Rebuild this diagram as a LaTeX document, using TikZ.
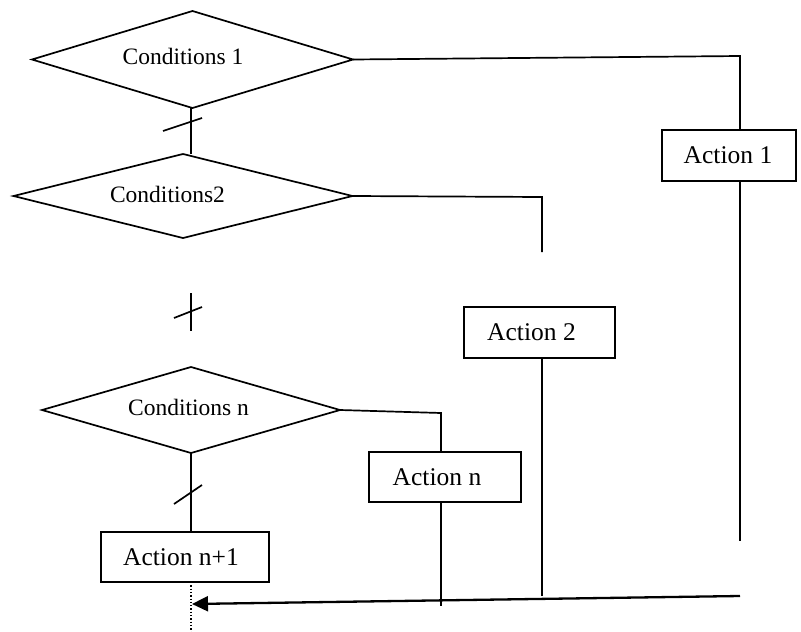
\documentclass[tikz,border=0pt]{standalone}
\usepackage{fontspec}
\setmainfont{Liberation Serif}
\usetikzlibrary{shapes.geometric,arrows.meta}
\begin{document}
\begin{tikzpicture}[x=1pt,y=-1pt,
  ln/.style={line width=1.7pt},
  cond/.style={draw,ln,diamond,inner sep=0pt,outer sep=0pt,shape aspect=3},
  condtext/.style={inner sep=0pt,font=\fontsize{23.5}{28}\selectfont},
  act/.style={draw,ln,rectangle,inner sep=0pt,outer sep=0pt,font=\fontsize{25.5}{30}\selectfont}]
\useasboundingbox (0,0) rectangle (801,632);
% diamonds
\node[cond,minimum width=321pt,minimum height=97pt] (d1) at (192.5,59.5) {};
\node[condtext] (t1) at (183,56) {Conditions 1};
\node[cond,minimum width=339pt,minimum height=84pt] (d2) at (183,196) {};
\node[condtext] (t2) at (167.5,194) {Conditions2};
\node[cond,minimum width=298pt,minimum height=86pt] (dn) at (191,410) {};
\node[condtext] (tn) at (188.5,407) {Conditions n};
% action boxes
\node[act,minimum width=134pt,minimum height=51pt] (a1) at (729,155.5) {};
\node[act,draw=none,inner sep=0pt] (ta1) at (728,155) {Action 1};
\node[act,minimum width=151pt,minimum height=51pt] (a2) at (539.5,332.5) {};
\node[act,draw=none] (ta2) at (531.5,332) {Action 2};
\node[act,minimum width=152pt,minimum height=50pt] (an) at (445,477) {};
\node[act,draw=none] (tan) at (437,477) {Action n};
\node[act,minimum width=168pt,minimum height=50pt] (an1) at (185,557) {};
\node[act,draw=none] (tan1) at (181,557) {Action n+1};
% coordinates
\coordinate (c1) at (740,56);
\coordinate (e1) at (740,541);
\coordinate (c2) at (542,197);
\coordinate (e2) at (542,252);
\coordinate (e2b) at (542,596);
\coordinate (cn) at (441,413);
\coordinate (en) at (441,606);
\coordinate (s1a) at (163,131);
\coordinate (s1b) at (202,118);
\coordinate (v2a) at (191,293);
\coordinate (v2b) at (191,331);
\coordinate (s2a) at (174,318);
\coordinate (s2b) at (202,307);
\coordinate (s3a) at (174,504);
\coordinate (s3b) at (202,485);
\coordinate (arS) at (740,596);
\coordinate (arE) at (192,604);
\coordinate (dotE) at (191,632);
% connectors
\draw[ln] (191,108) -- (191,154);
\draw[ln] (s1a) -- (s1b);
\draw[ln] (d1.east) -- (c1) -- (c1 |- a1.north);
\draw[ln] (c1 |- a1.south) -- (e1);
\draw[ln] (d2.east) -- (c2) -- (e2);
\draw[ln] (v2a) -- (v2b);
\draw[ln] (s2a) -- (s2b);
\draw[ln] (e2 |- a2.south) -- (e2b);
\draw[ln] (dn.east) -- (cn) -- (cn |- an.north);
\draw[ln] (cn |- an.south) -- (en);
\draw[ln] (191,453) -- (191,532);
\draw[ln] (s3a) -- (s3b);
\draw[line width=1.3pt,dotted] (191,582) -- (dotE);
\draw[line width=2.3pt,-{Triangle[length=16pt,width=15pt]}] (arS) -- (arE);
\end{tikzpicture}
\end{document}
